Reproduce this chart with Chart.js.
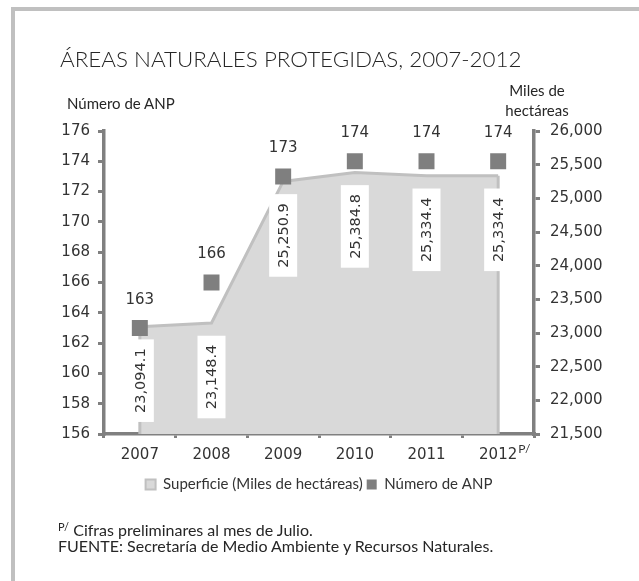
<!DOCTYPE html>
<html lang="es">
<head>
<meta charset="utf-8">
<title>Áreas naturales protegidas, 2007-2012</title>
<script src="https://cdn.jsdelivr.net/npm/chart.js@4.4.1/dist/chart.umd.min.js"></script>
<style>
  html, body { margin: 0; padding: 0; background: #ffffff; }
  #wrap { position: relative; width: 639px; height: 581px; overflow: hidden; }
  .frame { position: absolute; background: #c0c0c0; }
  #chart { position: absolute; left: 0; top: 0; }
  .txt { position: absolute; font-family: Lato, "Open Sans", sans-serif; color: #262626; white-space: nowrap; }
  #title { left: 60px; top: 45px; font-size: 22.4px; line-height: 28px; font-weight: 300; }
  #leftTitle { left: 67px; top: 94px; font-size: 15px; line-height: 18px; }
  #rightTitle { left: 497px; top: 80px; width: 80px; text-align: center; font-size: 15px; line-height: 20px; }
  #notes { left: 58px; top: 522px; font-size: 16px; line-height: 16px; }
  #notes sup { font-size: 11px; vertical-align: 5px; line-height: 0; }
</style>
</head>
<body>
<div id="wrap">
  <div class="frame" style="left:11px; top:7px; width:628px; height:4px;"></div>
  <div class="frame" style="left:11px; top:7px; width:4px; height:574px;"></div>
  <canvas id="chart" width="639" height="581"></canvas>
  <div id="title" class="txt">ÁREAS NATURALES PROTEGIDAS, 2007-2012</div>
  <div id="leftTitle" class="txt">Número de ANP</div>
  <div id="rightTitle" class="txt">Miles de<br>hectáreas</div>
  <div id="notes" class="txt"><sup>P/</sup> Cifras preliminares al mes de Julio.<br>FUENTE: Secretaría de Medio Ambiente y Recursos Naturales.</div>
</div>
<script>
// Años del periodo; 2012 lleva nota de cifras preliminares
const years = ['2007', '2008', '2009', '2010', '2011', '2012'];
const preliminaryYear = '2012';
// Superficie protegida, miles de hectáreas
const superficie = [23094.1, 23148.4, 25250.9, 25384.8, 25334.4, 25334.4];
// Número de áreas naturales protegidas
const numeroANP = [163, 166, 173, 174, 174, 174];
// Rangos de los ejes
const anpAxis = { min: 156, max: 176, step: 2 };
const supAxis = { min: 21500, max: 26000, step: 500 };

const NUM_FONT = 'DejaVu Sans';
const TEXT_FONT = 'Lato';
const AXIS_GRAY = '#808080';

function fmtThousands(v, decimals) {
  return v.toLocaleString('en-US', { minimumFractionDigits: decimals, maximumFractionDigits: decimals });
}

// Etiquetas de valor: verticales sobre fondo blanco para la superficie,
// horizontales encima de cada marcador para el número de ANP
const valueLabels = {
  id: 'valueLabels',
  afterDatasetDraw(chart, args) {
    const ctx = chart.ctx;
    const area = chart.chartArea;
    const meta = args.meta;
    if (args.index === 0) {
      const pts = meta.data;
      // bordes verticales del área en sus extremos
      ctx.save();
      ctx.strokeStyle = '#c0c0c0';
      ctx.lineWidth = 3;
      [pts[0], pts[pts.length - 1]].forEach(p => {
        ctx.beginPath();
        ctx.moveTo(p.x, p.y);
        ctx.lineTo(p.x, area.bottom);
        ctx.stroke();
      });
      ctx.font = '14.5px "' + NUM_FONT + '"';
      ctx.textAlign = 'center';
      ctx.textBaseline = 'middle';
      pts.forEach((p, i) => {
        const text = fmtThousands(superficie[i], 1);
        const w = ctx.measureText(text).width;
        const boxLen = w + 18;
        const boxThick = 28;
        const cy = p.y + 54;
        ctx.fillStyle = '#ffffff';
        ctx.fillRect(p.x - boxThick / 2, cy - boxLen / 2, boxThick, boxLen);
        ctx.save();
        ctx.translate(p.x, cy);
        ctx.rotate(-Math.PI / 2);
        ctx.fillStyle = '#333333';
        ctx.fillText(text, 0, 1);
        ctx.restore();
      });
      ctx.restore();
    } else if (args.index === 1) {
      ctx.save();
      ctx.font = '15px "' + NUM_FONT + '"';
      ctx.textAlign = 'center';
      ctx.textBaseline = 'middle';
      ctx.fillStyle = '#333333';
      meta.data.forEach((p, i) => {
        ctx.fillText(String(numeroANP[i]), p.x, p.y - 28);
      });
      ctx.restore();
    }
  },
  afterDraw(chart) {
    // superíndice de cifras preliminares junto a la etiqueta del año
    const xs = chart.scales.x;
    const idx = years.indexOf(preliminaryYear);
    if (idx < 0) return;
    const ctx = chart.ctx;
    ctx.save();
    ctx.font = '15px "' + NUM_FONT + '"';
    const half = ctx.measureText(preliminaryYear).width / 2;
    const x = xs.getPixelForTick(idx) + half + 1;
    ctx.font = '12px "' + TEXT_FONT + '"';
    ctx.fillStyle = '#333333';
    ctx.textAlign = 'left';
    ctx.textBaseline = 'middle';
    ctx.fillText('P/', x, xs.top + 15);
    ctx.restore();
  }
};

const chart = new Chart(document.getElementById('chart'), {
  type: 'line',
  data: {
    labels: years,
    datasets: [
      {
        label: 'Superficie (Miles de hectáreas)',
        data: superficie,
        yAxisID: 'y1',
        order: 2,
        fill: 'origin',
        backgroundColor: '#d9d9d9',
        borderColor: '#c0c0c0',
        borderWidth: 3,
        tension: 0,
        pointRadius: 0,
        pointHoverRadius: 0
      },
      {
        label: 'Número de ANP',
        data: numeroANP,
        yAxisID: 'y',
        order: 1,
        showLine: false,
        pointStyle: 'rect',
        pointRadius: 11.3,
        pointHoverRadius: 11.3,
        pointBorderWidth: 0,
        backgroundColor: '#7f7f7f',
        borderColor: '#7f7f7f'
      }
    ]
  },
  options: {
    responsive: false,
    animation: false,
    events: [],
    layout: { padding: { left: 60, right: 25, top: 131, bottom: 79 } },
    plugins: {
      title: { display: false },
      tooltip: { enabled: false },
      legend: {
        display: true,
        position: 'bottom',
        fullSize: false,
        labels: {
          boxWidth: 10,
          boxHeight: 10,
          padding: 4,
          color: '#333333',
          font: { family: TEXT_FONT, size: 15 },
          sort: (a, b) => a.datasetIndex - b.datasetIndex,
          generateLabels(c) {
            return Chart.defaults.plugins.legend.labels.generateLabels(c).map(item => {
              item.lineWidth = item.datasetIndex === 0 ? 2 : 0;
              return item;
            });
          }
        }
      }
    },
    scales: {
      x: {
        type: 'category',
        offset: true,
        grid: {
          offset: true,
          drawOnChartArea: false,
          drawTicks: true,
          tickLength: 4,
          color: AXIS_GRAY,
          lineWidth: 3
        },
        border: { display: true, color: AXIS_GRAY, width: 3.5 },
        ticks: {
          color: '#333333',
          padding: 8,
          maxRotation: 0,
          font: { family: NUM_FONT, size: 15 }
        },
        afterFit(s) { s.height = 39; }
      },
      y: {
        position: 'left',
        min: anpAxis.min,
        max: anpAxis.max,
        grid: {
          drawOnChartArea: false,
          drawTicks: true,
          tickLength: 6,
          color: AXIS_GRAY,
          lineWidth: 3
        },
        border: { display: true, color: AXIS_GRAY, width: 3.5 },
        ticks: {
          stepSize: anpAxis.step,
          color: '#333333',
          padding: 8,
          font: { family: NUM_FONT, size: 15 }
        },
        afterFit(s) { s.width = 44; }
      },
      y1: {
        position: 'right',
        min: supAxis.min,
        max: supAxis.max,
        grid: {
          drawOnChartArea: false,
          drawTicks: true,
          tickLength: 6,
          color: AXIS_GRAY,
          lineWidth: 3
        },
        border: { display: true, color: AXIS_GRAY, width: 3.5 },
        ticks: {
          stepSize: supAxis.step,
          color: '#333333',
          padding: 10,
          font: { family: NUM_FONT, size: 15 },
          callback: v => fmtThousands(v, 0)
        },
        afterFit(s) { s.width = 80; }
      }
    }
  },
  plugins: [valueLabels]
});
</script>
</body>
</html>
